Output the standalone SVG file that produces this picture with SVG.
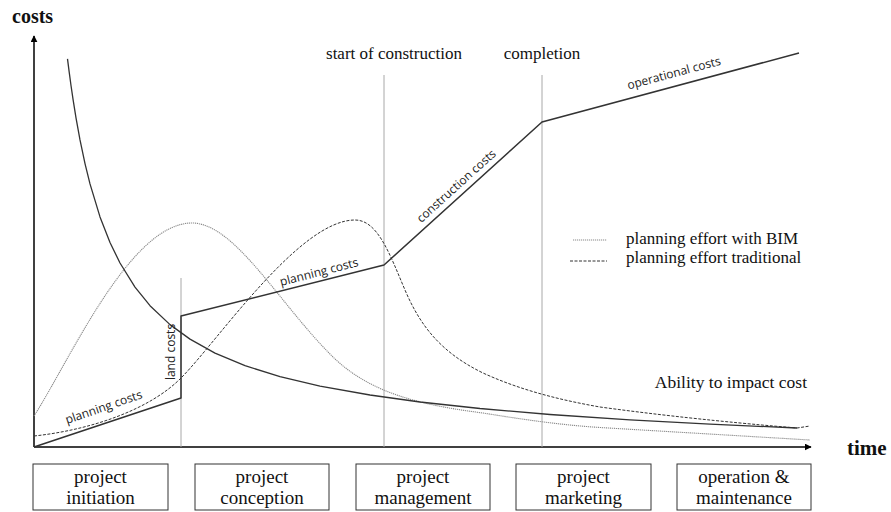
<svg xmlns="http://www.w3.org/2000/svg" width="891" height="512" viewBox="0 0 891 512">
<defs>
<style>
.serif{font-family:"Liberation Serif","Times New Roman",serif;fill:#111}
.sans{font-family:"Open Sans","Liberation Sans",sans-serif;fill:#222;font-size:12px}
.axis{stroke:#000;stroke-width:1.5;fill:none}
.cost{stroke:#333;stroke-width:1.5;fill:none;stroke-linejoin:round}
.ability{stroke:#333;stroke-width:1.3;fill:none;stroke-linejoin:round}
.mile{stroke:#a8a8a8;stroke-width:1;fill:none}
.bim{stroke:#8a8a8a;stroke-width:1.1;fill:none;stroke-dasharray:1.2 0.8}
.trad{stroke:#333;stroke-width:1;fill:none;stroke-dasharray:3 1.5}
.box{fill:#fff;stroke:#333;stroke-width:1}
</style>
<marker id="arr" viewBox="0 0 10 10" refX="9" refY="5" markerWidth="7" markerHeight="7" markerUnits="userSpaceOnUse" orient="auto">
<path d="M0,0 L10,5 L0,10 z" fill="#000"/>
</marker>
</defs>
<rect width="891" height="512" fill="#fff"/>

<g id="axes">
<line class="axis" x1="34" y1="447" x2="34" y2="36" marker-end="url(#arr)"/>
<line class="axis" x1="34" y1="447" x2="811" y2="447" marker-end="url(#arr)"/>
<text class="serif" x="12" y="23" font-size="20" font-weight="bold">costs</text>
<text class="serif" x="847" y="455" font-size="21" font-weight="bold">time</text>
</g>

<g id="milestones">
<line class="mile" x1="181" y1="278" x2="181" y2="447"/>
<line class="mile" x1="384" y1="75" x2="384" y2="447"/>
<line class="mile" x1="542" y1="75" x2="542" y2="447"/>
<text class="serif" x="394" y="59" font-size="17" text-anchor="middle">start of construction</text>
<text class="serif" x="542" y="59" font-size="17" text-anchor="middle">completion</text>
</g>

<g id="connectors">
<path id="bim-curve" class="bim" d="M34,416 C70,360 130,223 192,223 C235,223 280,305 333,357 C370,393 420,405 483,413 C520,419 560,425 600,427.5 L810,440"/>
<path id="trad-curve" class="trad" d="M34,436 C90,430 150,410 182,377 C220,338 300,220 355,220 C378,220 390,255 405,290 C420,325 440,352 483,373 C520,390 560,400 600,407 C680,418 760,425 797,428 L810,426"/>
<polyline id="ability-curve" class="ability" points="67.5,58.8 69,70.7 71,85.5 73,99.2 76,117.9 80,139.9 85,163.6 90,183.9 100,216.9 110,242.5 120,263 135,287.1 150,305.7 170,324.6 190,339.1 215,353.1 245,365.7 280,376.7 320,386.2 370,395 420,402 480,408.5 550,414.5 630,419.9 710,424.2 797,428"/>
<polyline id="cost-curve" class="cost" points="34,447 181,398 181,316 384,265 542,122 799,53"/>
</g>

<g id="curve-labels">
<text class="sans" transform="translate(105,411) rotate(-19)" text-anchor="middle">planning costs</text>
<text class="sans" transform="translate(175,352) rotate(-90)" text-anchor="middle">land costs</text>
<text class="sans" transform="translate(320,276) rotate(-14.5)" text-anchor="middle">planning costs</text>
<text class="sans" transform="translate(459,189) rotate(-42.1)" text-anchor="middle">construction costs</text>
<text class="sans" transform="translate(675,77) rotate(-15)" text-anchor="middle">operational costs</text>
<text class="serif" x="807" y="388" font-size="17.5" text-anchor="end">Ability to impact cost</text>
</g>

<g id="legend">
<line class="bim" x1="573" y1="240" x2="607" y2="240"/>
<line class="trad" x1="570" y1="261" x2="607" y2="261"/>
<text class="serif" x="626" y="244" font-size="17">planning effort with BIM</text>
<text class="serif" x="626" y="263" font-size="17">planning effort traditional</text>
</g>

<g id="phase-initiation">
<rect class="box" x="33" y="464" width="135" height="46"/>
<text class="serif" x="100.5" y="483" font-size="19" text-anchor="middle">project</text>
<text class="serif" x="100.5" y="504" font-size="19" text-anchor="middle">initiation</text>
</g>
<g id="phase-conception">
<rect class="box" x="195" y="464" width="134" height="46"/>
<text class="serif" x="262" y="483" font-size="19" text-anchor="middle">project</text>
<text class="serif" x="262" y="504" font-size="19" text-anchor="middle">conception</text>
</g>
<g id="phase-management">
<rect class="box" x="356" y="464" width="134" height="46"/>
<text class="serif" x="423" y="483" font-size="19" text-anchor="middle">project</text>
<text class="serif" x="423" y="504" font-size="19" text-anchor="middle">management</text>
</g>
<g id="phase-marketing">
<rect class="box" x="516" y="464" width="135" height="46"/>
<text class="serif" x="583.5" y="483" font-size="19" text-anchor="middle">project</text>
<text class="serif" x="583.5" y="504" font-size="19" text-anchor="middle">marketing</text>
</g>
<g id="phase-operation">
<rect class="box" x="677" y="464" width="134" height="46"/>
<text class="serif" x="744" y="483" font-size="19" text-anchor="middle">operation &amp;</text>
<text class="serif" x="744" y="504" font-size="19" text-anchor="middle">maintenance</text>
</g>
</svg>
